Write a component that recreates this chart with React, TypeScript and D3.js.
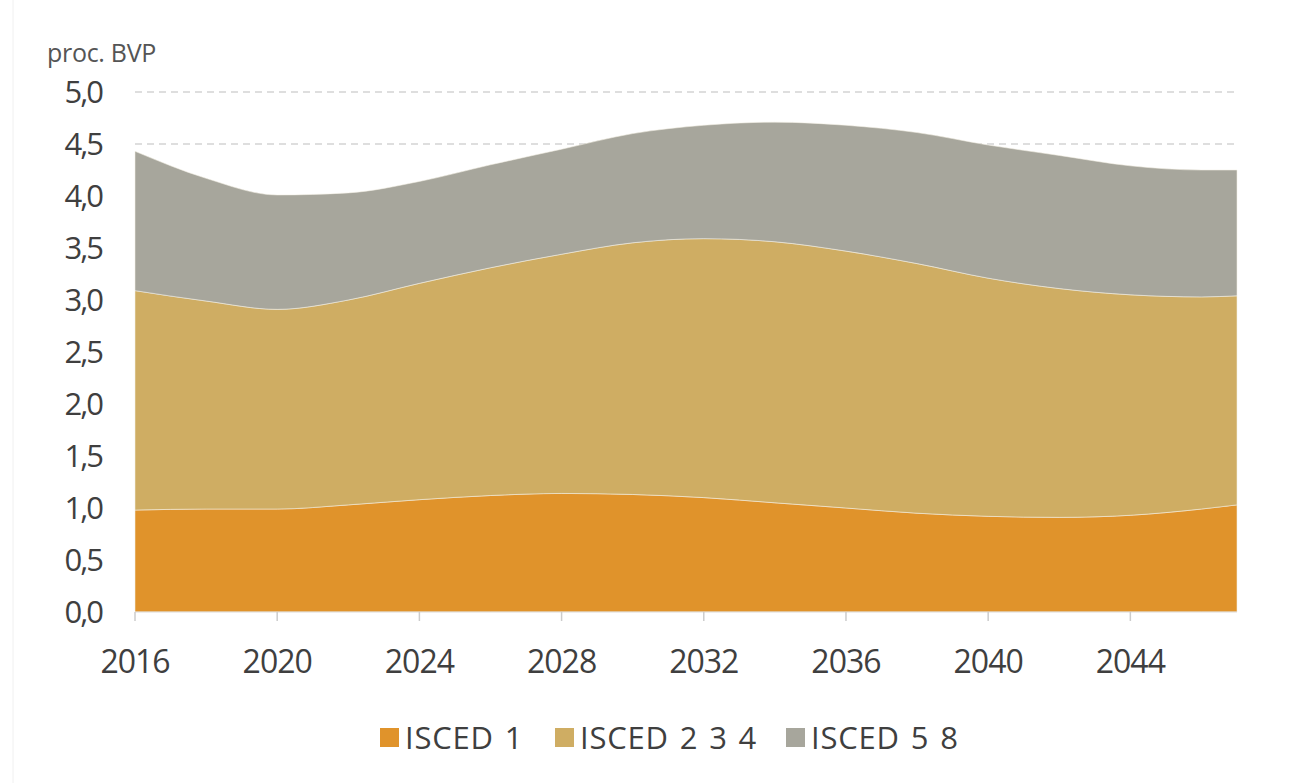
import React from 'react';
import * as d3 from 'd3';

// chart data (share of GDP)
const years = [2016, 2018, 2020, 2022, 2024, 2026, 2028, 2030, 2032, 2034, 2036, 2038, 2040, 2042, 2044, 2046, 2047];
const isced1 = [0.98, 0.99, 0.99, 1.03, 1.08, 1.12, 1.14, 1.13, 1.10, 1.05, 1.00, 0.95, 0.92, 0.91, 0.93, 0.99, 1.03];
const isced234 = [2.11, 2.00, 1.92, 1.97, 2.08, 2.19, 2.30, 2.42, 2.49, 2.51, 2.47, 2.40, 2.29, 2.20, 2.12, 2.04, 2.01];
const isced58 = [1.34, 1.18, 1.10, 1.03, 0.98, 0.99, 1.01, 1.05, 1.09, 1.15, 1.21, 1.26, 1.28, 1.28, 1.24, 1.22, 1.21];
const seriesNames = ['ISCED 1', 'ISCED 2 3 4', 'ISCED 5 8'];
const seriesColors = ['#E0932B', '#CFAD63', '#A7A69C'];
const xTicks = [2016, 2020, 2024, 2028, 2032, 2036, 2040, 2044];
const yTicks = [0, 0.5, 1, 1.5, 2, 2.5, 3, 3.5, 4, 4.5, 5];

const W = 1290, H = 783;
const margin = { top: 92, right: 53, bottom: 171, left: 135 };

const font = "'Open Sans', 'Noto Sans', sans-serif";

export default function App() {
  const width = W - margin.left - margin.right;
  const height = H - margin.top - margin.bottom;

  const x = d3.scaleLinear().domain([2016, 2047]).range([0, width]);
  const y = d3.scaleLinear().domain([0, 5]).range([height, 0]);

  const rows = years.map((yr, i) => ({
    year: yr,
    [seriesNames[0]]: isced1[i],
    [seriesNames[1]]: isced234[i],
    [seriesNames[2]]: isced58[i],
  }));
  const layers = d3.stack<any>().keys(seriesNames)(rows);

  const area = d3.area<any>()
    .x(d => x(d.data.year))
    .y0(d => y(d[0]))
    .y1(d => y(d[1]))
    .curve(d3.curveMonotoneX);

  const fmt = (v: number) => v.toFixed(1).replace('.', ',');

  // legend layout
  const legendY = 738;
  const legendX = [380, 555, 786];

  return (
    <svg width={W} height={H} style={{ position: 'absolute', left: 0, top: 0, background: '#fff' }}>
      <line x1={13} x2={13} y1={0} y2={H} stroke="#f0f0f0" />
      <text x={47} y={62} fontFamily={font} fontSize={25} letterSpacing={-0.3} fill="#555">proc. BVP</text>
      <g transform={`translate(${margin.left},${margin.top})`}>
        {yTicks.filter(t => t > 0).map(t => (
          <line key={t} x1={0} x2={width} y1={y(t)} y2={y(t)}
            stroke="#d4d4d4" strokeWidth={1.5} strokeDasharray="7,5" />
        ))}
        {layers.map((layer, i) => (
          <path key={layer.key} d={area(layer) || ''} fill={seriesColors[i]}
            stroke="#f4f0e6" strokeWidth={0.8} strokeOpacity={0.7} />
        ))}
        <line x1={0} x2={width} y1={height} y2={height} stroke="#ddd" />
        {xTicks.map(t => (
          <g key={t} transform={`translate(${x(t)},${height})`}>
            <line y1={0} y2={9} stroke="#ccc" strokeWidth={1.5} />
            <text y={61} textAnchor="middle" fontFamily={font} fontSize={32}
              letterSpacing={-1} fill="#3f3f3f">{t}</text>
          </g>
        ))}
        {yTicks.map(t => (
          <text key={t} x={-33} y={y(t)} dy="0.36em" textAnchor="end"
            fontFamily={font} fontSize={31} letterSpacing={-2} fill="#3f3f3f">{fmt(t)}</text>
        ))}
      </g>
      {seriesNames.map((name, i) => (
        <g key={name} transform={`translate(${legendX[i]},${legendY})`}>
          <rect x={0} y={-10} width={19} height={19} fill={seriesColors[i]} />
          <text x={25} y={0} dy="0.36em" fontFamily={font} fontSize={31}
            letterSpacing={0.8} wordSpacing={2} fill="#3f3f3f">{name}</text>
        </g>
      ))}
    </svg>
  );
}
